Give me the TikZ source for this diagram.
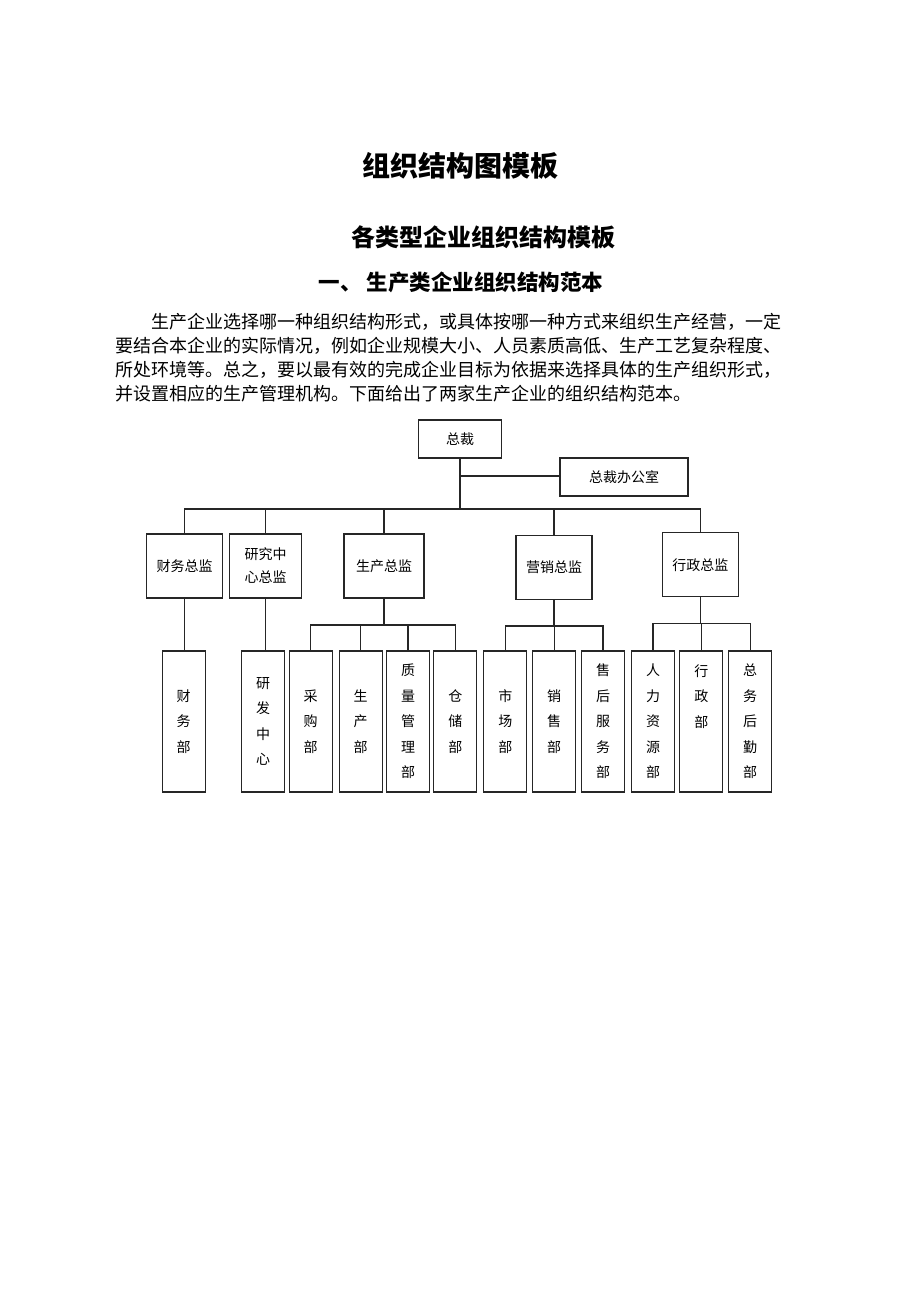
\documentclass[tikz,border=0pt]{standalone}
\usepackage{fontspec}
\setmainfont{Noto Sans CJK SC}
\usepackage{tikz}
\usetikzlibrary{positioning}
\tikzset{
  every picture/.append style={line width=1.2pt},
}
\tikzset{
  topbox/.style={draw=black!85, line width=1.3pt, minimum height=38pt, inner sep=0pt, align=center, font=\fontsize{14}{23}\selectfont},
  lead/.style={draw=black!85, line width=1.3pt, minimum width=76pt, minimum height=64pt, inner sep=0pt, align=center, font=\fontsize{14}{23}\selectfont},
  dept/.style={draw=black!85, line width=1.3pt, minimum width=43pt, minimum height=141pt, inner sep=0pt, align=center, font=\fontsize{14}{25.5}\selectfont},
  orgline/.style={draw=black!85, line width=1.2pt}
}
\begin{document}
\begin{tikzpicture}[
  x=1pt, y=-1pt,
  heading/.style={font=\bfseries\fontsize{#1}{#1}\selectfont, inner sep=0pt},
  bodyline/.style={anchor=west, inner sep=0pt, font=\fontsize{18}{18}\selectfont}
]
\useasboundingbox (0,0) rectangle (920,1302);

% Titles
\node[heading=28] (title) at (460,166) {组织结构图模板};
\node[heading=24] (subtitle) at (483,237) {各类型企业组织结构模板};
\node[heading=21.5] (section) at (461,282) {一、 生产类企业组织结构范本};

% Paragraph, one node per printed line
\node[bodyline] (para1) at (151,322) {生产企业选择哪一种组织结构形式，或具体按哪一种方式来组织生产经营，一定};
\node[bodyline] (para2) at (115,346) {要结合本企业的实际情况，例如企业规模大小、人员素质高低、生产工艺复杂程度、};
\node[bodyline] (para3) at (115,370) {所处环境等。总之，要以最有效的完成企业目标为依据来选择具体的生产组织形式，};
\node[bodyline] (para4) at (115,394) {并设置相应的生产管理机构。下面给出了两家生产企业的组织结构范本。};

% Top of the chart
\node[topbox, minimum width=83pt] (ceo) at (460,439) {总裁};
\node[topbox, minimum width=128pt] (office) at (624,477) {总裁办公室};

% Directors
\node[lead] (cw) at (184.7,566) {财务总监};
\node[lead, minimum width=72pt] (yj) at (265.5,566) {研究中\\心总监};
\node[lead, minimum width=80pt] (sc) at (384,566) {生产总监};
\node[lead] (yx) at (554,567.5) {营销总监};
\node[lead] (xz) at (700.3,564.7) {行政总监};

% Departments
\foreach \n/\x/\txt in {
  cwb/183.7/{财\\务\\部},
  yfb/263/{研\\发\\中\\心},
  cgb/310.7/{采\\购\\部},
  scb/360.7/{生\\产\\部},
  zlb/408/{质\\量\\管\\理\\部},
  ccb/455.3/{仓\\储\\部},
  scmb/505.3/{市\\场\\部},
  xsb/554.2/{销\\售\\部},
  shb/603/{售\\后\\服\\务\\部},
  rlb/653/{人\\力\\资\\源\\部},
  xzb/701.3/{行\\政\\部\\\mbox{}\\\mbox{}},
  zwb/750.2/{总\\务\\后\\勤\\部}}
  \node[dept] (\n) at (\x,721.5) {\txt};

% Bus lines
\coordinate (topbus) at (0,509);
\coordinate (officebus) at (0,476);
\coordinate (scbus) at (0,625);
\coordinate (yxbus) at (0,626);
\coordinate (xzbus) at (0,623.3);

\draw[orgline] (ceo.south) -- (ceo.south |- topbus);
\draw[orgline] (ceo.south |- officebus) -- (office.west |- officebus);
\draw[orgline] (cw.north) -- (cw.north |- topbus) -- (xz.north |- topbus) -- (xz.north);
\foreach \n in {yj,sc,yx}
  \draw[orgline] (\n.north) -- (\n.north |- topbus);

% Directors to departments
\draw[orgline] (cw.south) -- (cw.south |- cwb.north);
\draw[orgline] (yj.south) -- (yj.south |- yfb.north);

\draw[orgline] (sc.south) -- (sc.south |- scbus);
\draw[orgline] (cgb.north) -- (cgb.north |- scbus) -- (ccb.north |- scbus) -- (ccb.north);
\foreach \n in {scb,zlb}
  \draw[orgline] (\n.north) -- (\n.north |- scbus);

\draw[orgline] (yx.south) -- (yx.south |- yxbus);
\draw[orgline] (scmb.north) -- (scmb.north |- yxbus) -- (shb.north |- yxbus) -- (shb.north);
\draw[orgline] (xsb.north) -- (xsb.north |- yxbus);

\draw[orgline] (xz.south) -- (xz.south |- xzbus);
\draw[orgline] (rlb.north) -- (rlb.north |- xzbus) -- (zwb.north |- xzbus) -- (zwb.north);
\draw[orgline] (xzb.north) -- (xzb.north |- xzbus);

\end{tikzpicture}
\end{document}
